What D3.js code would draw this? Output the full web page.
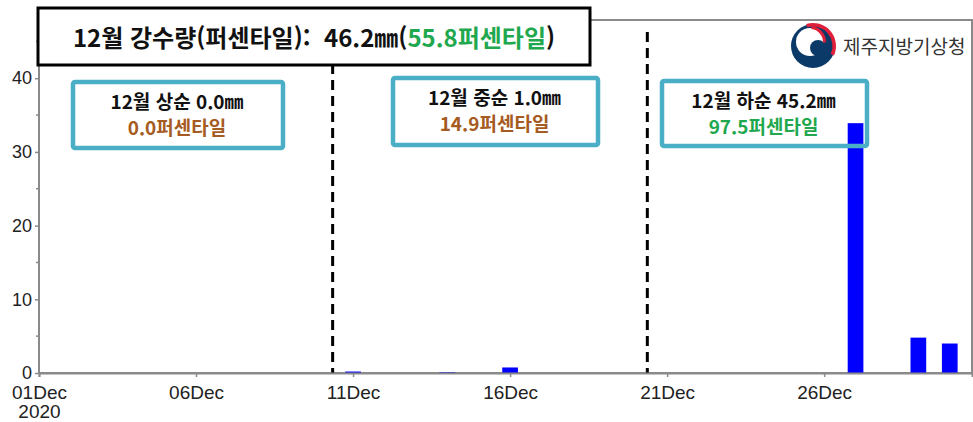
<!DOCTYPE html>
<html lang="ko">
<head>
    <title>12월 강수량</title>
    <meta charset="utf-8">
    <script src="https://d3js.org/d3.v7.min.js"></script>
    <style>
        body { margin: 0; background: #fff; }
        .tick text { font-family: "Liberation Sans", Arial, sans-serif; }
    </style>
</head>
<body>
<div id="visualization"></div>
<script>

    // Daily precipitation (mm), December 2020
    const rainDays = [11, 14, 16, 27, 29, 30];
    const rainValues = [0.2, 0.1, 0.75, 33.9, 4.8, 4.0];

    // Dekad dividers (day of month, fractional)
    const dividerDays = [10.35, 20.37];

    const yTicks = [0, 10, 20, 30, 40];
    const yMinorTicks = [5, 15, 25, 35, 45];
    const xTickDays = [1, 6, 11, 16, 21, 26];
    const yearLabel = "2020";

    const titleMain = "12월 강수량(퍼센타일):  46.2㎜(";
    const titlePct = "55.8퍼센타일";
    const periodLabels = ["12월 상순 0.0㎜", "12월 중순 1.0㎜", "12월 하순 45.2㎜"];
    const periodPcts = ["0.0퍼센타일", "14.9퍼센타일", "97.5퍼센타일"];
    const pctColors = ["#a65b22", "#a65b22", "#1fa84e"];
    const agency = "제주지방기상청";

    const W = 973, H = 422;
    const plot = {left: 39, right: 972, top: 20, bottom: 373};

    const day = d => new Date(Date.UTC(2020, 11, 1) + (d - 1) * 864e5);

    const svg = d3.select("#visualization")
        .append("svg")
        .attr("width", W)
        .attr("height", H);

    const x = d3.scaleUtc()
        .domain([day(1), day(30.708)])
        .range([plot.left, plot.right]);

    const y = d3.scaleLinear()
        .domain([0, 47.9])
        .range([plot.bottom, plot.top]);

    const barW = x(day(1.5)) - x(day(1));

    // Frame
    svg.append("rect")
        .attr("x", plot.left).attr("y", plot.top)
        .attr("width", plot.right - plot.left).attr("height", plot.bottom - plot.top)
        .attr("fill", "none")
        .attr("stroke", "#8a8a8a")
        .attr("stroke-width", 2);

    // Bars
    svg.append("g")
        .selectAll("rect")
        .data(rainDays)
        .join("rect")
        .attr("x", (d) => x(day(d)) - barW / 2)
        .attr("y", (d, i) => y(rainValues[i]))
        .attr("width", barW)
        .attr("height", (d, i) => y(0) - y(rainValues[i]))
        .attr("fill", "#0000ff");

    // Dashed dividers
    svg.append("g")
        .selectAll("line")
        .data(dividerDays)
        .join("line")
        .attr("x1", d => x(day(d)))
        .attr("x2", d => x(day(d)))
        .attr("y1", plot.top + 12)
        .attr("y2", plot.bottom)
        .attr("stroke", "#000")
        .attr("stroke-width", 3)
        .attr("stroke-dasharray", "10,6");

    // X axis
    const xAxis = svg.append("g")
        .attr("transform", `translate(0,${plot.bottom})`)
        .call(d3.axisBottom(x)
            .tickValues(xTickDays.map(day))
            .tickFormat(d3.utcFormat("%dDec"))
            .tickSize(4)
            .tickPadding(9));
    xAxis.select(".domain").attr("stroke", "#8a8a8a").attr("stroke-width", 2);
    xAxis.selectAll(".tick line").attr("stroke", "#8a8a8a").attr("stroke-width", 1.5);
    xAxis.selectAll(".tick text").attr("font-size", 19).attr("fill", "#222");
    // year under the first tick, as a second line of the same label
    xAxis.select(".tick text")
        .append("tspan")
        .attr("x", 0)
        .attr("dy", "1.0em")
        .text(yearLabel);

    // Y axis
    const yAxis = svg.append("g")
        .attr("transform", `translate(${plot.left},0)`)
        .call(d3.axisLeft(y).tickValues(yTicks).tickSize(4).tickPadding(3));
    yAxis.select(".domain").remove();
    yAxis.selectAll(".tick line").attr("stroke", "#8a8a8a").attr("stroke-width", 1.5);
    yAxis.selectAll(".tick text").attr("font-size", 18).attr("fill", "#222");
    svg.append("g")
        .selectAll("line")
        .data(yMinorTicks)
        .join("line")
        .attr("x1", plot.left - 3).attr("x2", plot.left)
        .attr("y1", d => y(d)).attr("y2", d => y(d))
        .attr("stroke", "#8a8a8a")
        .attr("stroke-width", 1.5);

    // Title box
    svg.append("rect")
        .attr("x", 38).attr("y", 8)
        .attr("width", 552).attr("height", 57)
        .attr("fill", "#fff")
        .attr("stroke", "#000")
        .attr("stroke-width", 3);
    const title = svg.append("text")
        .attr("x", 314).attr("y", 47)
        .attr("text-anchor", "middle")
        .attr("font-family", "Noto Sans CJK KR, sans-serif")
        .attr("font-weight", 700)
        .attr("font-size", 24)
        .attr("fill", "#111")
        .style("white-space", "pre");
    title.append("tspan").text(titleMain);
    title.append("tspan").attr("fill", "#1fa84e").text(titlePct);
    title.append("tspan").text(")");

    // Period boxes
    const boxes = [
        {x: 73, y: 82, w: 210, h: 66},
        {x: 393, y: 78, w: 205, h: 67},
        {x: 662, y: 81, w: 205, h: 65}
    ];
    const pg = svg.append("g")
        .selectAll("g")
        .data(boxes)
        .join("g");
    pg.append("rect")
        .attr("x", d => d.x).attr("y", d => d.y)
        .attr("width", d => d.w).attr("height", d => d.h)
        .attr("rx", 2)
        .attr("fill", "none")
        .attr("stroke", "#4aaec6")
        .attr("stroke-width", 4.5);
    pg.append("text")
        .attr("x", d => d.x + d.w / 2 - 1)
        .attr("y", d => d.y + 27)
        .attr("text-anchor", "middle")
        .attr("font-family", "Noto Sans CJK KR, sans-serif")
        .attr("font-weight", 700)
        .attr("font-size", 19)
        .attr("fill", "#111")
        .text((d, i) => periodLabels[i]);
    pg.append("text")
        .attr("x", d => d.x + d.w / 2 - 1)
        .attr("y", d => d.y + 53)
        .attr("text-anchor", "middle")
        .attr("font-family", "Noto Sans CJK KR, sans-serif")
        .attr("font-weight", 700)
        .attr("font-size", 19)
        .attr("fill", (d, i) => pctColors[i])
        .text((d, i) => periodPcts[i]);

    // Agency logo
    const logo = svg.append("g").attr("transform", "translate(813,46)");
    logo.append("circle").attr("r", 22).attr("fill", "#0b3a68");
    logo.append("path")
        .attr("d", d3.arc()({innerRadius: 19.5, outerRadius: 23, startAngle: -0.3, endAngle: 2.0}))
        .attr("fill", "#e0203a");
    logo.append("circle").attr("cx", -3).attr("cy", -4).attr("r", 14).attr("fill", "#fff");
    logo.append("circle").attr("cx", 5).attr("cy", 2).attr("r", 8).attr("fill", "#0b3a68");
    logo.append("path")
        .attr("d", d3.arc()({innerRadius: 13, outerRadius: 16, startAngle: 0.1, endAngle: 1.6}))
        .attr("transform", "translate(-3,-4)")
        .attr("fill", "#e0203a");
    svg.append("text")
        .attr("x", 843).attr("y", 54)
        .attr("font-family", "Noto Sans CJK KR, sans-serif")
        .attr("font-size", 19)
        .attr("fill", "#333")
        .text(agency);
</script>
</body>
</html>
